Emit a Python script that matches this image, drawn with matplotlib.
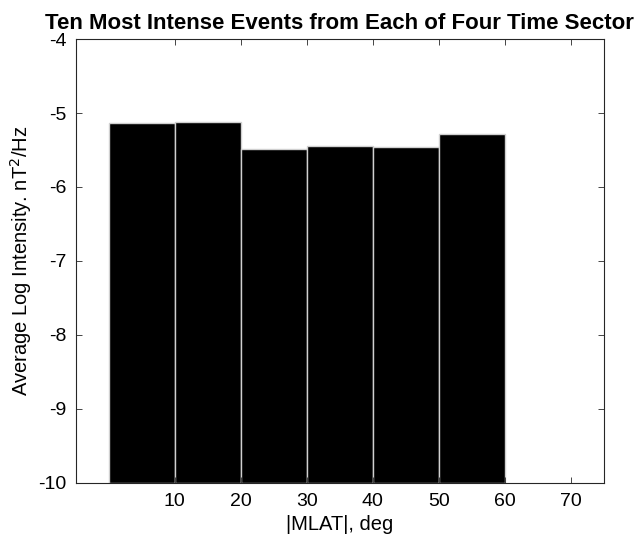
import matplotlib
matplotlib.use("Agg")
import matplotlib.pyplot as plt

plt.rcParams['font.family'] = ['Liberation Sans', 'DejaVu Sans']

bin_centers = [5, 15, 25, 35, 45, 55]
avg_log_intensity = [-5.14, -5.12, -5.49, -5.44, -5.46, -5.29]
x_ticks = [10, 20, 30, 40, 50, 60, 70]
y_ticks = [-4, -5, -6, -7, -8, -9, -10]
baseline = -10

fig = plt.figure(figsize=(6.43, 5.42), dpi=100)
ax = fig.add_axes([0.118, 0.109, 0.821, 0.819])

heights = [v - baseline for v in avg_log_intensity]
ax.bar(bin_centers, heights, width=10, bottom=baseline, color='black',
       edgecolor='#d0d0d0', linewidth=1.0)

ax.set_xlim(-5, 75)
ax.set_ylim(-10, -4)
ax.set_xticks(x_ticks)
ax.set_yticks(y_ticks)
ax.set_yticklabels([str(t) for t in y_ticks])
ax.tick_params(direction='in', top=True, right=True, labelsize=14, length=4,
               width=0.6, colors='#262626', labelcolor='black', pad=7)
for s in ax.spines.values():
    s.set_linewidth(0.8)
    s.set_color('#262626')

ax.set_xlabel('|MLAT|, deg', fontsize=14.5, labelpad=4)
ax.set_ylabel('Average Log Intensity. nT$^2$/Hz', fontsize=14.5, labelpad=3)
ax.set_title('Ten Most Intense Events from Each of Four Time Sector',
             fontsize=16, fontweight='bold', pad=7.5)

fig.savefig('out.png', dpi=100)
